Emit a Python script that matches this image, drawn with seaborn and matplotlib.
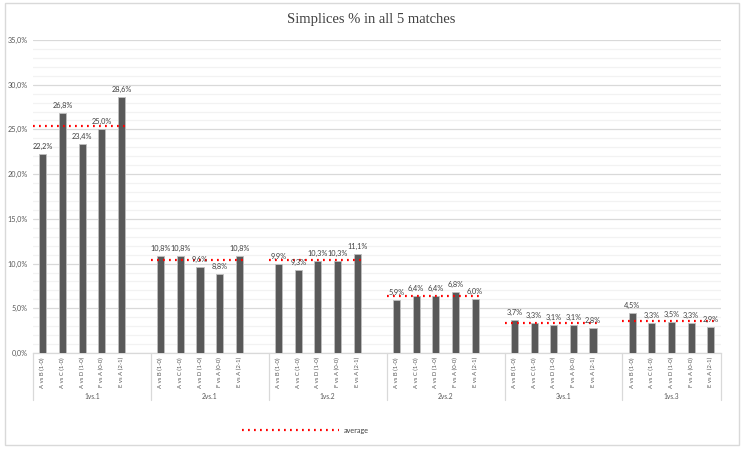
import numpy as np
import pandas as pd
import matplotlib
matplotlib.use("Agg")
import matplotlib.pyplot as plt
import seaborn as sns
from matplotlib.lines import Line2D
from matplotlib.patches import Rectangle
from matplotlib.ticker import MultipleLocator, FuncFormatter

# ---- data ----
groups = ["1vs.1", "2vs.1", "1vs.2", "2vs.2", "3vs.1", "1vs.3"]
matches = ["A vs B (1-0)", "A vs C (1-0)", "A vs D (1-0)", "F vs A (0-0)", "E vs A (2-1)"]
v_1vs1 = [22.2, 26.8, 23.4, 25.0, 28.6]
v_2vs1 = [10.8, 10.8, 9.6, 8.8, 10.8]
v_1vs2 = [9.9, 9.3, 10.3, 10.3, 11.1]
v_2vs2 = [5.9, 6.4, 6.4, 6.8, 6.0]
v_3vs1 = [3.7, 3.3, 3.1, 3.1, 2.8]
v_1vs3 = [4.5, 3.3, 3.5, 3.3, 2.9]
averages = [25.4, 10.4, 10.4, 6.4, 3.4, 3.6]
title = "Simplices % in all 5 matches"

series = [v_1vs1, v_2vs1, v_1vs2, v_2vs2, v_3vs1, v_1vs3]

rows = []
order = []
for gi, (g, vals) in enumerate(zip(groups, series)):
    for m, v in zip(matches, vals):
        key = f"{g}|{m}"
        rows.append({"key": key, "group": g, "match": m, "value": v})
        order.append(key)
    if gi < len(groups) - 1:
        order.append(f"gap{gi}")
df = pd.DataFrame(rows)

# ---- style ----
sns.set_theme(style="white")
plt.rcParams["font.family"] = ["Lato", "DejaVu Sans"]

W, H = 743, 449
fig = plt.figure(figsize=(W / 100, H / 100), dpi=100)
L, R, T, B = 33, 720.7, 40, 353
ax = fig.add_axes([L / W, 1 - B / H, (R - L) / W, (B - T) / H])

sns.barplot(data=df, x="key", y="value", order=order, color="#595959",
            saturation=1, width=0.36, edgecolor="#BFBFBF", linewidth=0.6,
            errorbar=None, ax=ax, zorder=3)

ax.set_xlim(-0.5, len(order) - 0.5)
ax.set_ylim(0, 35)
ax.yaxis.set_major_locator(MultipleLocator(5))
ax.yaxis.set_minor_locator(MultipleLocator(1))
ax.yaxis.set_major_formatter(FuncFormatter(lambda y, _: f"{y:.1f}%".replace(".", ",")))
ax.grid(axis="y", which="major", color="#D9D9D9", lw=0.9, zorder=0)
ax.grid(axis="y", which="minor", color="#F2F2F2", lw=0.9, zorder=0)
ax.set_axisbelow(True)
for s in ["left", "right", "top"]:
    ax.spines[s].set_visible(False)
ax.spines["bottom"].set_color("#D9D9D9")
ax.spines["bottom"].set_linewidth(0.9)

ax.tick_params(axis="y", which="both", length=0, pad=4, labelsize=5.2, labelcolor="#595959")
ax.set_xticks(range(len(order)))
ax.set_xticklabels([k.split("|")[1] if "|" in k else "" for k in order],
                   rotation=90, fontsize=4.3, color="#595959", va="top")
ax.tick_params(axis="x", length=0, pad=3)
ax.set_xlabel("")
ax.set_ylabel("")

pos = {k: i for i, k in enumerate(order)}

# data labels
for _, r in df.iterrows():
    ax.annotate(f"{r['value']:.1f}%".replace(".", ","), (pos[r["key"]], r["value"]),
                xytext=(0, 3), textcoords="offset points", ha="center", va="bottom",
                fontsize=5.3, color="#404040", zorder=5)

# average lines
trans = ax.get_xaxis_transform()
for gi, (g, a) in enumerate(zip(groups, averages)):
    first = pos[f"{g}|{matches[0]}"]
    last = pos[f"{g}|{matches[-1]}"]
    ax.plot([first - 0.5, last + 0.25], [a, a], color="#FF0000", lw=1.6,
            linestyle=(0, (0.8, 1.9)), zorder=4)
    # group separators and labels
    start = first - 0.5
    end = last + 1.5 if gi < len(groups) - 1 else last + 0.5
    ax.plot([start, start], [0, -0.15], transform=trans, color="#D9D9D9", lw=0.9, clip_on=False)
    if gi == len(groups) - 1:
        ax.plot([end, end], [0, -0.15], transform=trans, color="#D9D9D9", lw=0.9, clip_on=False)
    ax.text((start + end) / 2, -0.14, g, transform=trans, ha="center", va="center",
            fontsize=4.8, color="#595959")

# title
fig.text(371 / W, 1 - 19 / H, title, ha="center", va="center",
         fontsize=10.5, color="#404040", family=["Liberation Serif", "DejaVu Serif"])

# legend
handle = Line2D([], [], color="#FF0000", lw=1.6, linestyle=(0, (0.8, 1.9)))
leg = fig.legend([handle], ["average"], loc="center", bbox_to_anchor=(305 / W, 1 - 430 / H),
                 frameon=False, fontsize=5.2, handlelength=13.5, handletextpad=0.6)
for t in leg.get_texts():
    t.set_color("#404040")

# outer border
fig.patches.append(Rectangle((5 / W, 1 - 445 / H), 734 / W, 442 / H, transform=fig.transFigure,
                             fill=False, edgecolor="#D9D9D9", lw=1.0))

fig.savefig("out.png", dpi=100)
